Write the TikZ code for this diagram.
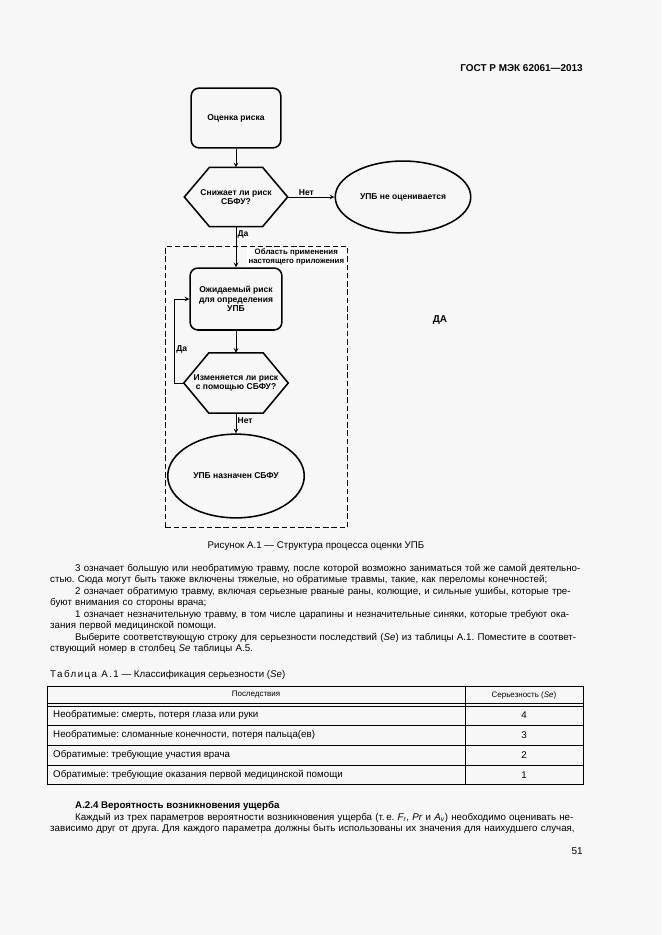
\documentclass[tikz,border=0pt]{standalone}
\usepackage{fontspec}
\setmainfont{Liberation Sans}
\usetikzlibrary{calc, positioning, shapes.geometric, arrows}
\definecolor{pagebg}{RGB}{247,247,247}
\frenchspacing
\tikzset{
  % Set arrowhead
  >=stealth,
  % Flowchart text
  ftext/.style={font=\fontsize{7.7}{8.8}\selectfont\bfseries, align=center},
  % Rounded process box
  rnode/.style={ftext, draw, line width=1.4pt, rounded corners=7pt,
    minimum width=81pt, minimum height=54pt, inner sep=1pt},
  % Decision node (hexagon drawn round it afterwards)
  hnode/.style={ftext, minimum width=93pt, minimum height=53pt, inner sep=0pt},
  % End node
  enode/.style={ftext, draw, shape=ellipse, line width=1.4pt, inner sep=0pt},
  % Dashed frame
  frame/.style={draw, line width=1.4pt, dash pattern=on 5pt off 2.5pt,
    minimum width=164.8pt, minimum height=254pt},
  % Arrows
  q->/.style={->, line width=0.9pt},
  % Arrow labels
  lbl/.style={font=\fontsize{7.7}{8.8}\selectfont\bfseries, inner sep=1pt},
  % Page text
  body/.style={font=\fontsize{8.8}{10.36}\selectfont, inner sep=0pt},
  small/.style={font=\fontsize{7.2}{8.4}\selectfont, inner sep=0pt},
  rule/.style={line width=0.6pt},
}

\begin{document}
\begin{tikzpicture}[x=0.3177mm, y=-0.3177mm]

    % page
    \fill[pagebg] (0,0) rectangle (661,935);
    \useasboundingbox (0,0) rectangle (661,935);

    \node[font=\fontsize{9}{10}\selectfont\bfseries, anchor=east, inner sep=0pt]
      (gost) at (583,68) {ГОСТ Р МЭК 62061—2013};

    % flowchart
    \node[rnode] (risk) at (236,118) {Оценка риска};
    \node[hnode] (q1) at (236,197) {Снижает ли риск\\СБФУ?};
    \node[enode, minimum width=122.5pt, minimum height=65pt]
      (noeval) at (403,197) {УПБ не оценивается};
    \node[frame] (area) at (256.5,387) {};
    \node[ftext, font=\fontsize{7.1}{8.2}\selectfont\bfseries, fill=white,
      inner sep=1pt, anchor=north east]
      (areatxt) at ($(area.north east)+(-3,2)$) {Область применения\\настоящего приложения};
    \node[rnode, minimum width=83pt, minimum height=56pt]
      (expect) at (236,299) {Ожидаемый риск\\для определения\\УПБ};
    \node[hnode, minimum width=94pt, minimum height=54pt]
      (q2) at (236,383) {Изменяется ли риск\\с помощью СБФУ?};
    \node[enode, minimum width=123.4pt, minimum height=75.7pt]
      (sfu) at (236,476) {УПБ назначен СБФУ};
    \node[font=\fontsize{9}{10}\selectfont\bfseries] (yes) at (440,320) {ДА};

    \foreach \n in {q1,q2}
      \draw[line width=1.4pt] (\n.west) -- ($(\n.north west)+(25,0)$)
        -- ($(\n.north east)+(-25,0)$) -- (\n.east)
        -- ($(\n.south east)+(-25,0)$) -- ($(\n.south west)+(25,0)$) -- cycle;

    \draw[q->] (risk) -- (q1);
    \draw[q->] (q1) -- node[lbl, above, pos=0.4] {Нет} (noeval);
    \draw[q->] (q1) -- node[lbl, right, pos=0.2] {Да} (expect);
    \draw[q->] (expect) -- (q2);
    \draw[q->] (q2.west) -- ++(-9,0) |- node[lbl, right, pos=0.2] {Да} (expect.west);
    \draw[q->] (q2) -- node[lbl, right, pos=0.35] {Нет} (sfu);

    \node[body] (caption) at (316,546) {Рисунок А.1 — Структура процесса оценки УПБ};

    % text
    \node[body, anchor=north west, text width=480pt] (para) at (50,564)
      {\parindent=22.5pt\hspace*{\parindent}%
       3 означает большую или необратимую травму, после которой возможно заниматься той же самой деятельно-\linebreak
       стью. Сюда могут быть также включены тяжелые, но обратимые травмы, такие, как переломы конечностей;\par
       2 означает обратимую травму, включая серьезные рваные раны, колющие, и сильные ушибы, которые тре-\linebreak
       буют внимания со стороны врача;\par
       1 означает незначительную травму, в том числе царапины и незначительные синяки, которые требуют ока-\linebreak
       зания первой медицинской помощи.\par
       Выберите соответствующую строку для серьезности последствий (\textit{Se}) из таблицы А.1. Поместите в соответ-\linebreak
       ствующий номер в столбец \textit{Se} таблицы А.5.};

    % table
    \node[body, anchor=west] (tcap) at (50,675)
      {{\addfontfeatures{LetterSpace=15}Таблица А.1} — Классификация серьезности (\textit{Se})};
    \draw[line width=0.8pt] (47,686) rectangle (583,784);
    \draw[rule] (47,703) -- (583,703) (47,706) -- (583,706);
    \foreach \yy in {725,745,765}
      \draw[rule] (47,\yy) -- (583,\yy);
    \draw[rule] (465,686) -- (465,784);
    \node[small] (h1) at (256,695) {Последствия};
    \node[small] (h2) at (524,695) {Серьезность (\textit{Se})};
    \foreach \yy/\cons/\se [count=\i] in {
        715/{Необратимые: смерть, потеря глаза или руки}/4,
        735/{Необратимые: сломанные конечности, потеря пальца(ев)}/3,
        755/{Обратимые: требующие участия врача}/2,
        775/{Обратимые: требующие оказания первой медицинской помощи}/1} {
      \node[body, anchor=west] (cons\i) at (53,\yy) {\cons};
      \node[body] (se\i) at (524,\yy) {\se};
    }

    \node[body, anchor=west, font=\fontsize{8.8}{10.36}\selectfont\bfseries]
      (sec) at (75,806) {А.2.4 Вероятность возникновения ущерба};
    \node[body, anchor=north west, text width=480pt] (para2) at (50,813)
      {\parindent=22.5pt\parfillskip=0pt\hspace*{\parindent}%
       Каждый из трех параметров вероятности возникновения ущерба (т.\,е. \textit{F\textsubscript{r}}, \textit{Pr} и \textit{A\textsubscript{v}}) необходимо оценивать не-\linebreak
       зависимо друг от друга. Для каждого параметра должны быть использованы их значения для наихудшего случая,};

    \node[font=\fontsize{9}{10}\selectfont, anchor=east, inner sep=0pt] (pnum) at (583,851) {51};
\end{tikzpicture}
\end{document}
